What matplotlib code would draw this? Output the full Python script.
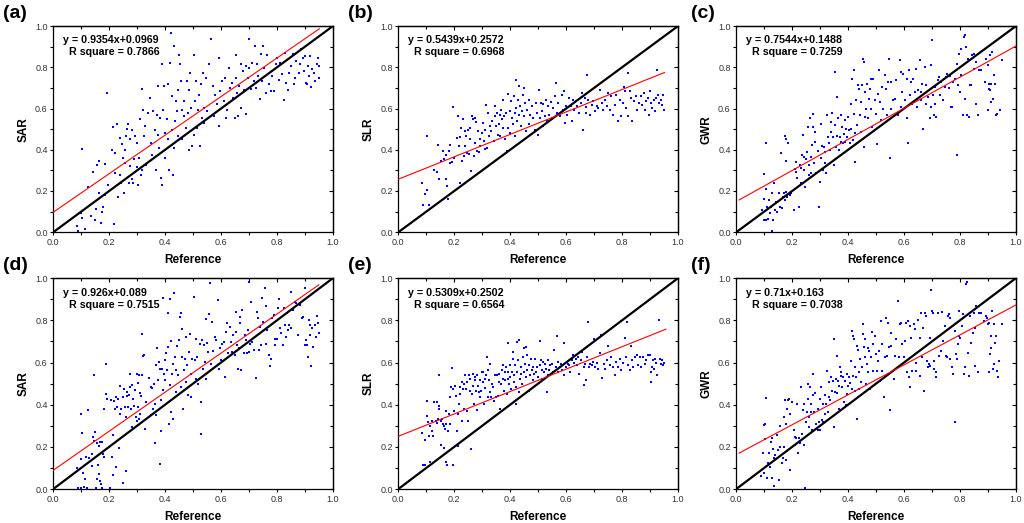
import numpy as np
import matplotlib
matplotlib.use("Agg")
from matplotlib import pyplot as plt
from matplotlib.ticker import MultipleLocator, NullFormatter

plt.rcParams['font.family'] = ['Liberation Sans', 'DejaVu Sans']

# panel meta data
panel_tags = ["(a)", "(b)", "(c)", "(d)", "(e)", "(f)"]
model_names = ["SAR", "SLR", "GWR", "SAR", "SLR", "GWR"]
slopes = [0.9354, 0.5439, 0.7544, 0.926, 0.5309, 0.71]
intercepts = [0.0969, 0.2572, 0.1488, 0.089, 0.2502, 0.163]
r_square = ["0.7866", "0.6968", "0.7259", "0.7515", "0.6564", "0.7038"]
fit_start = [0.0, 0.0, 0.01, 0.0, 0.0, 0.01]
fit_end = [0.952, 0.952, 1.0, 0.95, 0.957, 1.0]

# (reference, predicted) pairs
sar_a = [(0.085,0.029),(0.09,0.005),(0.103,0.406),(0.101,0.092),(0.104,0.07),(0.112,0.016),(0.126,0.22),(0.136,0.078),(0.143,0.29),(0.148,0.061),(0.157,0.324),(0.162,0.345),(0.154,0.113),(0.164,0.19),(0.172,0.045),(0.174,0.097),(0.178,0.121),(0.184,0.18),(0.184,0.332),(0.193,0.676),(0.196,0.231),(0.21,0.401),(0.214,0.511),(0.216,0.042),(0.22,0.288),(0.22,0.385),(0.229,0.526),(0.232,0.17),(0.238,0.458),(0.24,0.28),(0.244,0.24),(0.246,0.426),(0.25,0.36),(0.252,0.19),(0.256,0.337),(0.258,0.401),(0.262,0.466),(0.265,0.502),(0.268,0.523),(0.27,0.24),(0.274,0.45),(0.276,0.32),(0.28,0.498),(0.282,0.256),(0.286,0.24),(0.289,0.353),(0.292,0.466),(0.298,0.434),(0.301,0.317),(0.304,0.231),(0.306,0.361),(0.31,0.547),(0.313,0.28),(0.316,0.693),(0.318,0.304),(0.322,0.595),(0.325,0.466),(0.328,0.515),(0.33,0.328),(0.34,0.579),(0.346,0.652),(0.349,0.434),(0.354,0.377),(0.358,0.587),(0.364,0.498),(0.366,0.304),(0.37,0.571),(0.373,0.709),(0.376,0.474),(0.378,0.409),(0.382,0.555),(0.385,0.264),(0.388,0.231),(0.39,0.817),(0.394,0.595),(0.397,0.709),(0.4,0.482),(0.4,0.361),(0.406,0.547),(0.409,0.717),(0.412,0.45),(0.414,0.304),(0.418,0.822),(0.421,0.968),(0.424,0.498),(0.426,0.66),(0.429,0.28),(0.431,0.409),(0.433,0.903),(0.436,0.539),(0.438,0.636),(0.442,0.587),(0.445,0.466),(0.448,0.688),(0.451,0.862),(0.454,0.814),(0.457,0.733),(0.46,0.45),(0.462,0.595),(0.466,0.563),(0.469,0.636),(0.474,0.506),(0.478,0.733),(0.481,0.579),(0.484,0.688),(0.487,0.401),(0.49,0.773),(0.493,0.603),(0.498,0.417),(0.502,0.862),(0.505,0.474),(0.508,0.636),(0.511,0.733),(0.514,0.506),(0.517,0.595),(0.52,0.668),(0.526,0.417),(0.529,0.717),(0.532,0.555),(0.535,0.773),(0.538,0.603),(0.541,0.531),(0.546,0.749),(0.55,0.587),(0.556,0.814),(0.565,0.94),(0.57,0.709),(0.574,0.563),(0.58,0.668),(0.586,0.62),(0.592,0.846),(0.594,0.515),(0.598,0.684),(0.604,0.733),(0.61,0.636),(0.616,0.749),(0.619,0.555),(0.623,0.595),(0.628,0.798),(0.634,0.701),(0.64,0.725),(0.643,0.652),(0.649,0.555),(0.652,0.749),(0.655,0.862),(0.659,0.676),(0.661,0.563),(0.666,0.709),(0.67,0.814),(0.673,0.603),(0.676,1.0),(0.678,0.782),(0.682,0.692),(0.688,0.574),(0.691,0.806),(0.697,0.749),(0.7,0.94),(0.702,0.798),(0.707,0.693),(0.712,0.822),(0.718,0.733),(0.721,0.903),(0.724,0.701),(0.73,0.814),(0.733,0.757),(0.738,0.647),(0.743,0.865),(0.748,0.733),(0.752,0.906),(0.755,0.798),(0.76,0.676),(0.766,0.862),(0.772,0.72),(0.778,0.684),(0.784,0.757),(0.79,0.684),(0.796,0.814),(0.802,0.846),(0.806,0.741),(0.81,0.822),(0.818,1.0),(0.82,0.769),(0.826,0.644),(0.83,0.871),(0.834,0.725),(0.838,0.688),(0.844,0.773),(0.85,0.806),(0.856,0.865),(0.86,0.717),(0.866,0.749),(0.87,0.83),(0.878,0.773),(0.882,0.814),(0.886,0.887),(0.892,0.846),(0.898,0.782),(0.902,0.854),(0.904,0.725),(0.906,0.717),(0.91,0.806),(0.914,0.757),(0.918,0.854),(0.922,0.704),(0.926,0.79),(0.93,1.0),(0.934,0.773),(0.938,0.733),(0.942,0.814),(0.946,0.846),(0.95,0.749),(0.952,0.806)]

slr_b = [(0.086,0.238),(0.089,0.133),(0.097,0.185),(0.103,0.206),(0.103,0.466),(0.11,0.133),(0.129,0.302),(0.139,0.293),(0.143,0.421),(0.147,0.26),(0.154,0.346),(0.16,0.394),(0.163,0.354),(0.169,0.373),(0.172,0.257),(0.175,0.222),(0.177,0.161),(0.181,0.394),(0.184,0.421),(0.186,0.334),(0.192,0.341),(0.196,0.606),(0.2,0.362),(0.21,0.458),(0.214,0.563),(0.216,0.418),(0.219,0.238),(0.22,0.463),(0.224,0.506),(0.228,0.346),(0.232,0.55),(0.234,0.37),(0.238,0.418),(0.24,0.49),(0.243,0.466),(0.246,0.386),(0.249,0.498),(0.252,0.378),(0.255,0.506),(0.258,0.45),(0.261,0.297),(0.264,0.563),(0.267,0.547),(0.27,0.37),(0.273,0.555),(0.276,0.434),(0.279,0.534),(0.281,0.394),(0.285,0.49),(0.287,0.389),(0.291,0.45),(0.293,0.418),(0.299,0.482),(0.303,0.531),(0.305,0.442),(0.309,0.402),(0.311,0.498),(0.315,0.619),(0.317,0.41),(0.319,0.579),(0.323,0.466),(0.327,0.514),(0.331,0.49),(0.335,0.539),(0.341,0.442),(0.344,0.563),(0.347,0.611),(0.35,0.514),(0.353,0.579),(0.356,0.474),(0.36,0.527),(0.362,0.571),(0.365,0.466),(0.368,0.595),(0.371,0.547),(0.374,0.643),(0.376,0.506),(0.379,0.563),(0.382,0.45),(0.386,0.579),(0.388,0.394),(0.392,0.67),(0.394,0.506),(0.398,0.587),(0.4,0.482),(0.403,0.635),(0.406,0.555),(0.41,0.523),(0.412,0.659),(0.416,0.579),(0.418,0.469),(0.42,0.74),(0.422,0.603),(0.424,0.539),(0.428,0.643),(0.43,0.571),(0.432,0.711),(0.436,0.611),(0.438,0.514),(0.442,0.587),(0.445,0.667),(0.448,0.563),(0.451,0.699),(0.454,0.627),(0.457,0.49),(0.46,0.595),(0.466,0.523),(0.469,0.643),(0.471,0.571),(0.477,0.614),(0.483,0.555),(0.489,0.498),(0.493,0.627),(0.495,0.579),(0.499,0.474),(0.504,0.691),(0.507,0.555),(0.511,0.627),(0.513,0.587),(0.517,0.514),(0.519,0.624),(0.525,0.563),(0.529,0.643),(0.531,0.539),(0.537,0.611),(0.54,0.571),(0.545,0.63),(0.549,0.555),(0.555,0.603),(0.561,0.659),(0.564,0.723),(0.569,0.579),(0.572,0.627),(0.578,0.563),(0.584,0.667),(0.588,0.595),(0.593,0.683),(0.596,0.531),(0.6,0.611),(0.605,0.571),(0.612,0.651),(0.616,0.611),(0.62,0.539),(0.624,0.643),(0.628,0.595),(0.635,0.635),(0.64,0.611),(0.647,0.579),(0.652,0.627),(0.656,0.675),(0.662,0.498),(0.667,0.651),(0.671,0.579),(0.673,0.608),(0.676,0.764),(0.679,0.643),(0.685,0.571),(0.691,0.619),(0.697,0.635),(0.703,0.587),(0.709,0.611),(0.715,0.603),(0.721,0.691),(0.727,0.627),(0.733,0.595),(0.739,0.643),(0.745,0.611),(0.751,0.675),(0.757,0.595),(0.762,0.659),(0.768,0.571),(0.774,0.619),(0.78,0.667),(0.786,0.539),(0.792,0.643),(0.798,0.563),(0.804,0.627),(0.808,0.707),(0.811,0.683),(0.816,0.603),(0.82,0.772),(0.823,0.563),(0.828,0.683),(0.834,0.651),(0.837,0.539),(0.842,0.635),(0.849,0.659),(0.855,0.595),(0.861,0.627),(0.867,0.659),(0.873,0.619),(0.878,0.675),(0.881,0.595),(0.887,0.635),(0.893,0.651),(0.897,0.571),(0.901,0.683),(0.905,0.627),(0.909,0.603),(0.913,0.643),(0.917,0.587),(0.92,0.651),(0.925,0.788),(0.929,0.667),(0.932,0.627),(0.941,0.643),(0.944,0.619),(0.947,0.667),(0.949,0.595)]

gwr_c = [(0.092,0.108),(0.098,0.16),(0.101,0.282),(0.101,0.06),(0.105,0.431),(0.107,0.208),(0.107,0.06),(0.111,0.124),(0.113,0.063),(0.117,0.156),(0.119,0.092),(0.125,0.124),(0.128,0.189),(0.131,0.06),(0.129,0.006),(0.135,0.24),(0.14,0.108),(0.143,0.148),(0.147,0.1),(0.153,0.192),(0.155,0.124),(0.159,0.382),(0.163,0.116),(0.167,0.173),(0.171,0.189),(0.173,0.156),(0.175,0.466),(0.177,0.45),(0.178,0.347),(0.179,0.197),(0.181,0.169),(0.185,0.431),(0.187,0.184),(0.191,0.181),(0.195,0.192),(0.206,0.108),(0.209,0.305),(0.212,0.294),(0.215,0.342),(0.218,0.261),(0.223,0.124),(0.227,0.326),(0.23,0.31),(0.233,0.237),(0.235,0.374),(0.239,0.471),(0.241,0.302),(0.243,0.366),(0.247,0.221),(0.251,0.353),(0.253,0.39),(0.255,0.511),(0.259,0.326),(0.261,0.277),(0.264,0.552),(0.266,0.366),(0.268,0.285),(0.272,0.423),(0.273,0.511),(0.276,0.573),(0.277,0.334),(0.28,0.439),(0.283,0.487),(0.286,0.289),(0.292,0.395),(0.297,0.124),(0.298,0.245),(0.302,0.361),(0.304,0.527),(0.308,0.419),(0.31,0.302),(0.314,0.415),(0.316,0.337),(0.319,0.39),(0.322,0.285),(0.326,0.568),(0.328,0.463),(0.331,0.431),(0.334,0.398),(0.338,0.487),(0.34,0.535),(0.344,0.579),(0.346,0.463),(0.35,0.326),(0.352,0.777),(0.354,0.519),(0.358,0.415),(0.36,0.656),(0.362,0.466),(0.364,0.552),(0.366,0.398),(0.37,0.463),(0.374,0.568),(0.376,0.439),(0.378,0.511),(0.382,0.431),(0.385,0.479),(0.388,0.544),(0.39,0.439),(0.394,0.503),(0.397,0.463),(0.4,0.56),(0.403,0.497),(0.406,0.431),(0.409,0.624),(0.412,0.503),(0.414,0.745),(0.416,0.447),(0.42,0.785),(0.421,0.576),(0.424,0.482),(0.426,0.342),(0.43,0.64),(0.433,0.519),(0.436,0.713),(0.438,0.697),(0.442,0.568),(0.445,0.487),(0.447,0.632),(0.45,0.713),(0.453,0.842),(0.456,0.826),(0.457,0.415),(0.459,0.56),(0.462,0.681),(0.465,0.6),(0.468,0.721),(0.471,0.552),(0.475,0.648),(0.479,0.697),(0.481,0.742),(0.483,0.6),(0.487,0.511),(0.49,0.742),(0.495,0.64),(0.499,0.576),(0.502,0.427),(0.507,0.673),(0.511,0.789),(0.514,0.632),(0.519,0.544),(0.523,0.705),(0.526,0.6),(0.531,0.761),(0.536,0.697),(0.539,0.568),(0.543,0.729),(0.547,0.842),(0.549,0.358),(0.553,0.729),(0.555,0.6),(0.561,0.64),(0.567,0.648),(0.573,0.737),(0.579,0.568),(0.585,0.834),(0.588,0.777),(0.591,0.608),(0.594,0.681),(0.598,0.769),(0.603,0.64),(0.609,0.745),(0.612,0.552),(0.615,0.431),(0.617,0.785),(0.621,0.665),(0.624,0.729),(0.629,0.624),(0.634,0.745),(0.638,0.681),(0.642,0.794),(0.646,0.608),(0.65,0.689),(0.656,0.837),(0.66,0.64),(0.662,0.681),(0.665,0.721),(0.669,0.503),(0.674,0.802),(0.677,0.624),(0.68,0.713),(0.686,0.656),(0.692,0.552),(0.696,0.608),(0.698,0.81),(0.7,0.934),(0.704,0.665),(0.708,0.568),(0.71,0.705),(0.712,0.624),(0.716,0.56),(0.72,0.737),(0.724,0.753),(0.729,0.665),(0.734,0.729),(0.74,0.64),(0.743,0.745),(0.748,0.705),(0.752,0.753),(0.755,0.766),(0.76,0.698),(0.764,0.76),(0.767,0.608),(0.77,0.608),(0.776,0.729),(0.782,0.745),(0.788,0.374),(0.791,0.818),(0.794,0.713),(0.797,0.866),(0.8,0.681),(0.803,0.89),(0.805,0.761),(0.811,0.568),(0.815,0.947),(0.817,0.955),(0.82,0.648),(0.823,0.897),(0.827,0.568),(0.829,0.842),(0.833,0.56),(0.837,0.713),(0.841,0.713),(0.845,0.858),(0.849,0.866),(0.851,0.794),(0.856,0.624),(0.859,0.826),(0.863,0.568),(0.868,0.785),(0.875,0.785),(0.889,0.729),(0.895,0.842),(0.899,0.81),(0.901,0.592),(0.903,0.721),(0.905,0.697),(0.907,0.689),(0.909,0.858),(0.91,0.721),(0.913,0.632),(0.915,0.874),(0.919,0.648),(0.923,0.761),(0.925,0.721),(0.928,0.568),(0.931,0.576),(0.943,0.592),(0.949,0.837)]

sar_d = [(0.086,0.1),(0.089,0.005),(0.099,0.005),(0.099,0.143),(0.101,0.357),(0.104,0.265),(0.107,0.075),(0.11,0.008),(0.113,0.048),(0.117,0.151),(0.121,0.003),(0.125,0.373),(0.129,0.148),(0.137,0.111),(0.14,0.167),(0.143,0.246),(0.145,0.23),(0.146,0.54),(0.149,0.27),(0.152,0.003),(0.155,0.048),(0.157,0.217),(0.161,0.116),(0.163,0.206),(0.164,0.071),(0.167,0.222),(0.169,0.04),(0.17,0.024),(0.173,0.222),(0.175,0.003),(0.179,0.167),(0.181,0.154),(0.182,0.381),(0.188,0.452),(0.19,0.592),(0.194,0.429),(0.198,0.198),(0.202,0.003),(0.208,0.421),(0.211,0.151),(0.212,0.067),(0.214,0.254),(0.218,0.417),(0.22,0.381),(0.224,0.103),(0.226,0.437),(0.229,0.389),(0.232,0.429),(0.236,0.194),(0.238,0.357),(0.24,0.487),(0.244,0.381),(0.248,0.437),(0.25,0.027),(0.252,0.476),(0.256,0.389),(0.26,0.087),(0.262,0.341),(0.263,0.44),(0.265,0.46),(0.268,0.389),(0.27,0.444),(0.273,0.484),(0.274,0.544),(0.277,0.381),(0.28,0.294),(0.282,0.492),(0.286,0.429),(0.288,0.392),(0.292,0.468),(0.295,0.344),(0.298,0.322),(0.3,0.548),(0.302,0.503),(0.304,0.389),(0.306,0.543),(0.307,0.333),(0.31,0.456),(0.312,0.357),(0.315,0.44),(0.317,0.735),(0.319,0.54),(0.321,0.63),(0.324,0.635),(0.327,0.286),(0.331,0.413),(0.343,0.529),(0.348,0.484),(0.351,0.349),(0.355,0.481),(0.357,0.381),(0.36,0.497),(0.363,0.217),(0.365,0.405),(0.367,0.587),(0.369,0.349),(0.371,0.667),(0.375,0.519),(0.379,0.603),(0.381,0.571),(0.383,0.119),(0.386,0.421),(0.387,0.275),(0.389,0.571),(0.392,0.905),(0.393,0.468),(0.395,0.548),(0.399,0.611),(0.401,0.516),(0.405,0.643),(0.407,0.563),(0.41,0.675),(0.412,0.833),(0.414,0.31),(0.417,0.492),(0.419,0.9),(0.42,0.365),(0.423,0.703),(0.425,0.548),(0.427,0.333),(0.429,0.595),(0.432,0.929),(0.435,0.627),(0.438,0.46),(0.44,0.563),(0.444,0.678),(0.446,0.54),(0.45,0.706),(0.452,0.817),(0.456,0.837),(0.458,0.484),(0.46,0.757),(0.462,0.627),(0.464,0.378),(0.468,0.563),(0.471,0.619),(0.474,0.722),(0.476,0.508),(0.48,0.587),(0.483,0.444),(0.486,0.651),(0.488,0.735),(0.492,0.437),(0.494,0.548),(0.498,0.619),(0.502,0.913),(0.506,0.611),(0.51,0.524),(0.512,0.714),(0.515,0.627),(0.519,0.5),(0.524,0.69),(0.527,0.262),(0.53,0.413),(0.533,0.706),(0.536,0.571),(0.538,0.683),(0.542,0.603),(0.545,0.805),(0.548,0.524),(0.55,0.694),(0.554,0.651),(0.557,0.83),(0.562,0.976),(0.565,0.595),(0.569,0.79),(0.571,0.656),(0.577,0.719),(0.583,0.706),(0.589,0.897),(0.592,0.571),(0.595,0.667),(0.599,0.611),(0.605,0.69),(0.61,0.698),(0.614,0.532),(0.619,0.746),(0.623,0.786),(0.626,0.643),(0.631,0.771),(0.637,0.698),(0.64,0.651),(0.643,0.73),(0.649,0.635),(0.652,0.841),(0.655,0.746),(0.657,0.683),(0.661,0.571),(0.664,0.667),(0.667,0.817),(0.669,0.786),(0.673,0.563),(0.676,0.849),(0.679,1.0),(0.681,0.643),(0.685,0.73),(0.688,0.706),(0.693,0.643),(0.696,0.754),(0.7,0.984),(0.702,0.651),(0.705,0.69),(0.708,0.889),(0.712,0.698),(0.717,0.659),(0.72,1.0),(0.724,0.529),(0.729,0.841),(0.732,0.81),(0.736,0.659),(0.74,0.77),(0.744,0.683),(0.748,0.905),(0.75,0.794),(0.756,0.952),(0.76,0.868),(0.762,0.69),(0.765,0.754),(0.771,0.635),(0.774,0.583),(0.78,0.619),(0.783,0.81),(0.788,0.825),(0.792,0.683),(0.795,0.714),(0.8,0.714),(0.804,0.857),(0.807,0.9),(0.81,0.762),(0.813,0.738),(0.819,1.0),(0.821,0.683),(0.825,0.857),(0.829,0.778),(0.833,0.722),(0.837,0.833),(0.84,0.754),(0.845,0.778),(0.849,0.762),(0.852,0.937),(0.857,0.849),(0.863,0.889),(0.869,0.881),(0.875,0.73),(0.881,0.873),(0.89,0.81),(0.895,0.814),(0.899,0.683),(0.902,0.952),(0.905,0.706),(0.907,0.683),(0.911,0.627),(0.914,0.802),(0.917,0.778),(0.92,0.73),(0.923,0.583),(0.926,0.762),(0.929,0.675),(0.931,1.0),(0.935,0.778),(0.94,0.722),(0.943,0.821),(0.946,0.786),(0.95,0.738)]

slr_e = [(0.083,0.268),(0.088,0.112),(0.095,0.112),(0.097,0.231),(0.101,0.419),(0.103,0.348),(0.107,0.316),(0.109,0.252),(0.112,0.128),(0.115,0.3),(0.119,0.276),(0.121,0.324),(0.125,0.252),(0.127,0.411),(0.133,0.324),(0.137,0.313),(0.139,0.411),(0.143,0.332),(0.145,0.539),(0.145,0.38),(0.147,0.396),(0.151,0.209),(0.154,0.324),(0.157,0.332),(0.159,0.308),(0.162,0.196),(0.164,0.3),(0.166,0.284),(0.169,0.308),(0.171,0.372),(0.172,0.129),(0.175,0.112),(0.177,0.273),(0.181,0.356),(0.184,0.308),(0.186,0.435),(0.19,0.483),(0.192,0.576),(0.195,0.112),(0.197,0.475),(0.2,0.372),(0.202,0.491),(0.207,0.443),(0.21,0.276),(0.213,0.356),(0.215,0.204),(0.216,0.404),(0.219,0.483),(0.222,0.451),(0.226,0.324),(0.228,0.507),(0.23,0.475),(0.234,0.38),(0.236,0.499),(0.24,0.539),(0.242,0.475),(0.245,0.372),(0.247,0.507),(0.249,0.321),(0.252,0.539),(0.255,0.467),(0.258,0.523),(0.26,0.188),(0.264,0.451),(0.266,0.547),(0.268,0.491),(0.271,0.404),(0.273,0.515),(0.276,0.531),(0.278,0.467),(0.28,0.539),(0.283,0.375),(0.285,0.491),(0.287,0.459),(0.291,0.515),(0.293,0.435),(0.297,0.467),(0.299,0.555),(0.302,0.507),(0.304,0.555),(0.306,0.404),(0.309,0.523),(0.311,0.48),(0.315,0.539),(0.317,0.627),(0.319,0.435),(0.322,0.563),(0.324,0.515),(0.327,0.595),(0.329,0.459),(0.333,0.435),(0.335,0.499),(0.337,0.483),(0.341,0.419),(0.347,0.539),(0.35,0.435),(0.353,0.539),(0.356,0.443),(0.359,0.507),(0.361,0.547),(0.365,0.38),(0.367,0.499),(0.371,0.563),(0.373,0.523),(0.375,0.587),(0.378,0.467),(0.38,0.555),(0.382,0.515),(0.385,0.579),(0.388,0.451),(0.391,0.523),(0.392,0.694),(0.394,0.555),(0.397,0.499),(0.399,0.587),(0.401,0.531),(0.404,0.475),(0.406,0.555),(0.409,0.619),(0.41,0.651),(0.412,0.507),(0.414,0.539),(0.418,0.587),(0.42,0.404),(0.422,0.483),(0.423,0.699),(0.425,0.555),(0.428,0.611),(0.43,0.459),(0.432,0.707),(0.435,0.523),(0.437,0.579),(0.439,0.547),(0.442,0.499),(0.445,0.627),(0.448,0.555),(0.45,0.667),(0.452,0.595),(0.455,0.675),(0.457,0.531),(0.46,0.635),(0.462,0.563),(0.466,0.467),(0.468,0.587),(0.471,0.539),(0.475,0.619),(0.477,0.563),(0.48,0.515),(0.483,0.579),(0.487,0.547),(0.489,0.619),(0.493,0.555),(0.496,0.579),(0.501,0.531),(0.505,0.703),(0.507,0.587),(0.511,0.611),(0.513,0.563),(0.515,0.523),(0.518,0.603),(0.521,0.555),(0.525,0.595),(0.528,0.571),(0.531,0.459),(0.534,0.539),(0.537,0.611),(0.54,0.563),(0.544,0.587),(0.549,0.595),(0.552,0.555),(0.558,0.659),(0.563,0.579),(0.567,0.726),(0.57,0.603),(0.572,0.555),(0.578,0.579),(0.582,0.595),(0.587,0.563),(0.591,0.694),(0.594,0.539),(0.599,0.579),(0.606,0.595),(0.61,0.587),(0.614,0.555),(0.62,0.611),(0.626,0.635),(0.629,0.598),(0.634,0.619),(0.639,0.587),(0.644,0.627),(0.648,0.547),(0.653,0.611),(0.658,0.651),(0.663,0.579),(0.665,0.494),(0.667,0.595),(0.672,0.515),(0.675,0.627),(0.677,0.793),(0.682,0.579),(0.686,0.595),(0.691,0.587),(0.697,0.603),(0.701,0.71),(0.705,0.579),(0.71,0.598),(0.715,0.571),(0.72,0.643),(0.724,0.73),(0.729,0.528),(0.734,0.595),(0.739,0.571),(0.745,0.611),(0.751,0.678),(0.757,0.587),(0.762,0.627),(0.768,0.579),(0.774,0.539),(0.78,0.603),(0.786,0.579),(0.792,0.619),(0.798,0.563),(0.804,0.598),(0.81,0.715),(0.814,0.627),(0.819,0.794),(0.822,0.587),(0.828,0.563),(0.831,0.678),(0.836,0.611),(0.841,0.579),(0.846,0.627),(0.852,0.635),(0.857,0.587),(0.863,0.627),(0.869,0.579),(0.875,0.627),(0.881,0.595),(0.887,0.611),(0.893,0.635),(0.899,0.635),(0.903,0.507),(0.905,0.555),(0.907,0.579),(0.911,0.611),(0.914,0.571),(0.919,0.619),(0.923,0.598),(0.926,0.539),(0.931,0.802),(0.935,0.619),(0.938,0.592),(0.943,0.611),(0.947,0.587),(0.952,0.598)]

gwr_f = [(0.089,0.06),(0.095,0.169),(0.098,0.078),(0.101,0.302),(0.103,0.31),(0.104,0.235),(0.107,0.433),(0.11,0.052),(0.113,0.122),(0.116,0.169),(0.12,0.103),(0.125,0.224),(0.127,0.052),(0.129,0.24),(0.132,0.188),(0.134,0.013),(0.136,0.146),(0.14,0.161),(0.144,0.255),(0.148,0.185),(0.152,0.041),(0.155,0.298),(0.158,0.201),(0.164,0.122),(0.167,0.146),(0.17,0.342),(0.172,0.201),(0.176,0.42),(0.178,0.31),(0.179,0.138),(0.181,0.381),(0.184,0.42),(0.187,0.428),(0.191,0.091),(0.193,0.357),(0.199,0.412),(0.205,0.282),(0.209,0.248),(0.211,0.208),(0.215,0.24),(0.217,0.404),(0.221,0.172),(0.224,0.24),(0.229,0.216),(0.233,0.483),(0.236,0.263),(0.238,0.373),(0.241,0.208),(0.243,0.404),(0.246,0.005),(0.25,0.318),(0.253,0.365),(0.255,0.498),(0.257,0.428),(0.26,0.342),(0.262,0.295),(0.265,0.483),(0.267,0.365),(0.269,0.404),(0.272,0.279),(0.274,0.444),(0.276,0.545),(0.279,0.365),(0.281,0.455),(0.286,0.31),(0.291,0.279),(0.293,0.381),(0.295,0.318),(0.298,0.428),(0.3,0.279),(0.304,0.483),(0.306,0.326),(0.31,0.404),(0.312,0.318),(0.316,0.444),(0.318,0.357),(0.321,0.404),(0.324,0.561),(0.327,0.365),(0.331,0.436),(0.333,0.506),(0.336,0.42),(0.339,0.53),(0.343,0.467),(0.345,0.514),(0.348,0.295),(0.35,0.71),(0.354,0.459),(0.356,0.522),(0.359,0.455),(0.362,0.632),(0.364,0.514),(0.367,0.491),(0.369,0.381),(0.371,0.577),(0.374,0.553),(0.376,0.538),(0.38,0.483),(0.383,0.53),(0.386,0.412),(0.389,0.514),(0.393,0.397),(0.395,0.451),(0.397,0.545),(0.401,0.491),(0.403,0.53),(0.407,0.502),(0.409,0.608),(0.413,0.475),(0.415,0.752),(0.416,0.726),(0.419,0.538),(0.421,0.71),(0.423,0.467),(0.426,0.577),(0.428,0.53),(0.431,0.334),(0.433,0.679),(0.435,0.658),(0.438,0.475),(0.44,0.553),(0.442,0.616),(0.446,0.506),(0.45,0.577),(0.452,0.734),(0.454,0.781),(0.457,0.674),(0.459,0.71),(0.461,0.624),(0.464,0.498),(0.466,0.592),(0.47,0.671),(0.472,0.553),(0.476,0.655),(0.478,0.475),(0.482,0.624),(0.484,0.746),(0.488,0.687),(0.49,0.561),(0.495,0.726),(0.499,0.639),(0.504,0.561),(0.508,0.608),(0.511,0.655),(0.514,0.514),(0.516,0.796),(0.52,0.687),(0.523,0.561),(0.528,0.436),(0.531,0.624),(0.535,0.812),(0.54,0.632),(0.543,0.788),(0.547,0.674),(0.549,0.373),(0.552,0.741),(0.555,0.679),(0.559,0.561),(0.563,0.522),(0.568,0.632),(0.573,0.71),(0.579,0.893),(0.582,0.624),(0.587,0.781),(0.591,0.788),(0.594,0.687),(0.599,0.624),(0.603,0.702),(0.606,0.788),(0.611,0.553),(0.614,0.796),(0.618,0.53),(0.62,0.486),(0.623,0.773),(0.626,0.718),(0.63,0.561),(0.635,0.781),(0.638,0.757),(0.642,0.6),(0.644,0.561),(0.65,0.804),(0.656,0.538),(0.658,0.718),(0.662,0.835),(0.665,0.627),(0.668,0.765),(0.671,0.464),(0.675,0.835),(0.677,0.82),(0.682,0.608),(0.686,0.577),(0.689,0.592),(0.692,0.718),(0.694,0.585),(0.698,0.945),(0.7,0.843),(0.703,0.835),(0.706,0.608),(0.709,0.569),(0.713,0.553),(0.715,0.53),(0.721,0.835),(0.727,0.632),(0.733,0.655),(0.737,0.84),(0.741,0.702),(0.745,0.773),(0.749,0.632),(0.753,0.624),(0.757,0.82),(0.76,0.828),(0.763,0.616),(0.766,0.812),(0.77,0.577),(0.775,0.545),(0.781,0.749),(0.784,0.318),(0.786,0.64),(0.789,0.616),(0.792,0.687),(0.796,0.843),(0.798,0.726),(0.802,0.718),(0.808,0.773),(0.812,0.828),(0.816,0.545),(0.82,0.577),(0.822,0.972),(0.824,0.981),(0.828,0.647),(0.832,0.538),(0.836,0.82),(0.841,0.694),(0.846,0.741),(0.849,0.835),(0.853,0.765),(0.855,0.585),(0.858,0.867),(0.864,0.553),(0.867,0.835),(0.875,0.835),(0.887,0.796),(0.893,0.82),(0.896,0.812),(0.899,0.781),(0.903,0.553),(0.905,0.788),(0.907,0.64),(0.91,0.726),(0.912,0.671),(0.915,0.843),(0.917,0.569),(0.921,0.592),(0.923,0.781),(0.926,0.694),(0.929,0.726),(0.931,0.561),(0.935,0.53),(0.941,0.608),(0.95,0.781)]

panel_points = [sar_a, slr_b, gwr_c, sar_d, slr_e, gwr_f]

# axes boxes in figure fractions
col_left = [0.052, 0.389, 0.719]
row_bottom = [0.556, 0.065]
row_height = [0.394, 0.403]
ax_width = 0.273


def set_ticks(axis):
    axis.set_major_locator(MultipleLocator(0.2))
    axis.set_minor_locator(MultipleLocator(0.1))


fig = plt.figure(figsize=(10.24, 5.23), dpi=100)

for i in range(6):
    row, col = divmod(i, 3)
    ax = fig.add_axes([col_left[col], row_bottom[row], ax_width, row_height[row]])

    pts = np.array(panel_points[i])
    ax.scatter(pts[:, 0], pts[:, 1], s=3.8, marker='s', color='#0000ff',
               linewidths=0, zorder=2)

    # 1:1 line and fitted line
    ax.plot([0, 1], [0, 1], color='black', lw=1.6, zorder=3)
    fx = np.array([fit_start[i], fit_end[i]])
    ax.plot(fx, slopes[i] * fx + intercepts[i], color='red', lw=0.8, zorder=4)

    ax.set_xlim(0, 1)
    ax.set_ylim(0, 1)
    set_ticks(ax.xaxis)
    set_ticks(ax.yaxis)
    ax.xaxis.set_major_formatter(lambda v, p: f"{v:.1f}")
    ax.yaxis.set_major_formatter(lambda v, p: f"{v:.1f}")

    # outward ticks bottom/left, inward mirrored ticks top/right
    ax.tick_params(which='both', direction='out', width=0.8,
                   labelsize=6.5, labelcolor='#333333')
    ax.tick_params(which='major', length=2.5)
    ax.tick_params(which='minor', length=2)
    ax.tick_params(axis='x', pad=2)
    ax.tick_params(axis='y', pad=1.5)
    top = ax.secondary_xaxis('top')
    right = ax.secondary_yaxis('right')
    for sec, axis in ((top, top.xaxis), (right, right.yaxis)):
        set_ticks(axis)
        axis.set_major_formatter(NullFormatter())
        sec.tick_params(which='both', direction='in', width=0.8)
        sec.tick_params(which='major', length=3)
        sec.tick_params(which='minor', length=2)
        for sp in sec.spines.values():
            sp.set_linewidth(0.9)
    for sp in ax.spines.values():
        sp.set_linewidth(0.9)

    ax.set_xlabel("Reference", fontsize=8.5, fontweight='bold', labelpad=5)
    ax.set_ylabel(model_names[i], fontsize=8.5, fontweight='bold', labelpad=4)

    # regression equation
    ax.text(0.035, 0.955,
            f"y = {slopes[i]}x+{intercepts[i]}\n  R square = {r_square[i]}",
            transform=ax.transAxes, ha='left', va='top', fontsize=7.7,
            fontweight='bold', linespacing=1.25)

    # panel tag
    tag_x = [3, 348, 691][col] / 1024
    tag_y = [1 - 13 / 523, 1 - 265 / 523][row]
    fig.text(tag_x, tag_y, panel_tags[i], fontsize=14, fontweight='bold',
             ha='left', va='center')

fig.savefig("out.png", dpi=100)
